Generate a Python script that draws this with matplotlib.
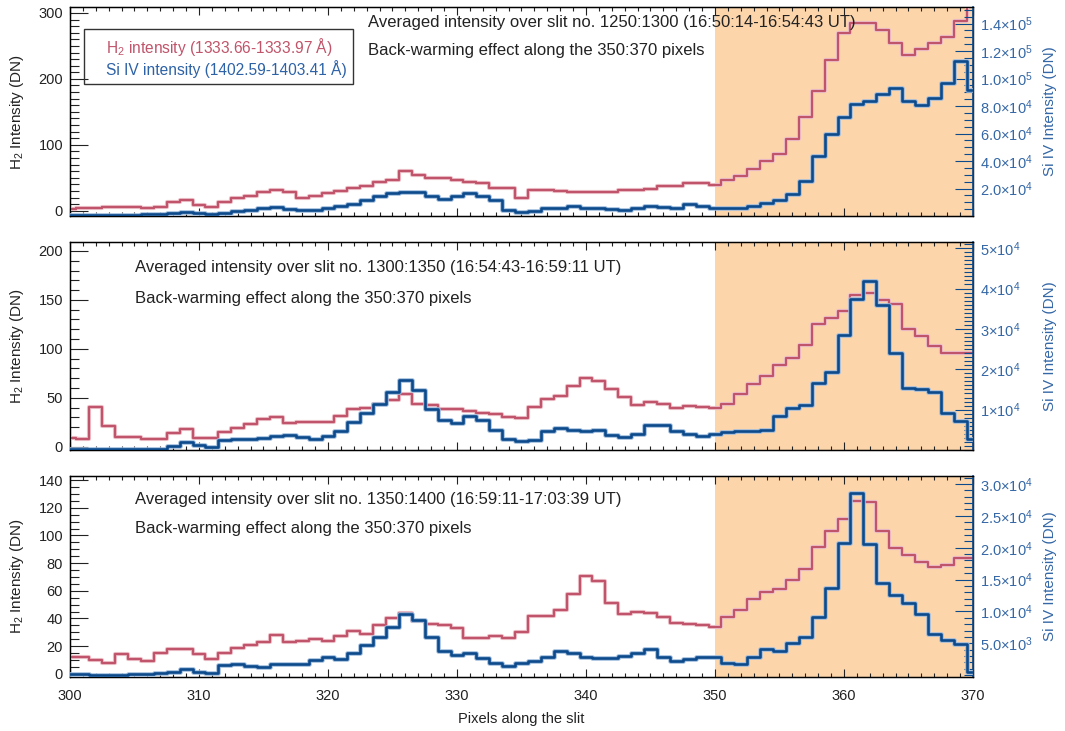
"""Stacked H2 / Si IV intensity profiles along the slit for three slit intervals."""
import numpy as np
import matplotlib
import matplotlib.pyplot as plt
import matplotlib.patheffects as pe
from matplotlib.patches import Rectangle
from matplotlib.ticker import MultipleLocator, FixedLocator, FuncFormatter
matplotlib.use('Agg')

plt.rcParams['font.family'] = ['Liberation Sans', 'DejaVu Sans']
plt.rcParams['mathtext.fontset'] = 'custom'
plt.rcParams['mathtext.rm'] = 'Liberation Sans'
plt.rcParams['mathtext.it'] = 'Liberation Sans:italic'

pixels = np.arange(300, 371)

h2_1 = [2, 4, 4, 5, 5, 5, 4, 6, 14, 17, 9, 5, 14, 19, 22, 28, 31, 28, 20, 22,
        27, 30, 34, 37, 43, 47, 60, 54, 49, 50, 47, 43, 42, 34, 34, 19, 32, 31,
        30, 28, 29, 29, 28, 32, 32, 33, 37, 38, 42, 42, 39, 46, 53, 63, 76, 86,
        109, 142, 181, 229, 269, 285, 285, 274, 254, 236, 246, 254, 264, 288,
        330]
si_1 = [800, 800, 800, 800, 900, 1000, 1200, 1500, 2000, 3000, 2000, 1200,
        2300, 3500, 4700, 5900, 6200, 5200, 4200, 4200, 5900, 7600, 8700,
        12000, 14400, 16900, 17600, 17600, 14400, 12700, 14400, 16400, 14400,
        11300, 4700, 3000, 3500, 5500, 5900, 7600, 6100, 5500, 5200, 4700,
        5900, 7600, 6600, 5900, 8400, 7100, 5900, 5900, 5900, 7100, 9100,
        12000, 16100, 25800, 44000, 59300, 72100, 81800, 83500, 88400, 93200,
        83500, 81100, 86000, 96900, 112600, 91500]

h2_2 = [9, 8, 41, 21, 10, 10, 8, 8, 14, 18, 9, 9, 15, 19, 23, 28, 30, 24, 25,
        25, 25, 31, 38, 40, 44, 48, 54, 44, 43, 39, 38, 36, 34, 33, 30, 29, 41,
        49, 52, 62, 70, 67, 59, 51, 43, 46, 44, 40, 42, 41, 40, 44, 54, 64, 72,
        83, 91, 104, 125, 131, 139, 155, 157, 150, 146, 120, 113, 103, 96, 96,
        96]
si_2 = [300, 300, 300, 300, 300, 300, 300, 300, 940, 1930, 1360, 780, 2430,
        2760, 2760, 3000, 3580, 3830, 3250, 2760, 3420, 4650, 7000, 9180,
        11480, 14280, 17400, 14940, 10160, 7530, 6710, 8520, 7370, 4900, 2760,
        2180, 2590, 4650, 5470, 5060, 4650, 4900, 3830, 3250, 4070, 6300,
        6300, 4650, 4070, 3420, 4070, 4400, 4650, 4650, 5060, 8350, 10400,
        11230, 16600, 19200, 28500, 37300, 41900, 35900, 24000, 15350, 15100,
        14280, 9180, 7120, 2800]

h2_3 = [12, 12, 10, 8, 14, 11, 9, 15, 18, 18, 14, 11, 15, 19, 21, 23, 28, 23,
        24, 25, 24, 27, 31, 29, 35, 40, 44, 38, 36, 35, 33, 26, 26, 27, 26, 30,
        42, 42, 46, 58, 71, 67, 51, 43, 45, 44, 41, 37, 36, 35, 34, 41, 46, 54,
        59, 61, 68, 76, 92, 103, 112, 125, 124, 103, 91, 86, 81, 77, 79, 84, 84]
si_3 = [200, 150, 100, 100, 100, 120, 150, 290, 550, 970, 550, 400, 1600,
        1760, 1440, 1340, 1760, 1700, 1760, 2390, 2900, 2540, 3530, 4740, 6040,
        7610, 9560, 8670, 6040, 3850, 3170, 3430, 2650, 1870, 1490, 1960, 2280,
        2900, 3850, 3530, 2900, 2650, 2750, 3010, 3430, 4070, 2810, 2230, 2490,
        2810, 2900, 1870, 1800, 2900, 4070, 3850, 5000, 5950, 9090, 13640,
        20700, 28650, 20600, 14430, 12590, 11290, 9610, 6470, 5530, 4850, 550]

titles = ['Averaged intensity over slit no. 1250:1300 (16:50:14-16:54:43 UT)',
          'Averaged intensity over slit no. 1300:1350 (16:54:43-16:59:11 UT)',
          'Averaged intensity over slit no. 1350:1400 (16:59:11-17:03:39 UT)']
subtitle = 'Back-warming effect along the 350:370 pixels'

RED = '#c0546a'
BLUE = '#0c4a8c'
AXBLUE = '#3467a6'
PEACH = '#fcd5ab'
TXT = '#222222'


def sci_label(v, decimals):
    e = int(np.floor(np.log10(v) + 1e-9))
    m = v / 10 ** e
    return ('%.*f' % (decimals, m)) + '\u00d710$^{%d}$' % e


def panel(fig, rect, h2, si, ylim, ymaj, ymin, y2lim, y2ticks, y2minor,
          y2dec, title, tpos, legend=False, bottom=False):
    ax = fig.add_axes(rect)
    ax.axvspan(350, 370, color=PEACH, lw=0, zorder=0)
    ax.step(pixels, h2, where='mid', color=RED, lw=1.6, zorder=3,
            path_effects=[pe.Stroke(linewidth=3.0, foreground='#efc4cc'),
                          pe.Normal()])
    ax.set_xlim(300, 370)
    ax.set_ylim(*ylim)
    ax.yaxis.set_major_locator(MultipleLocator(ymaj))
    ax.yaxis.set_minor_locator(MultipleLocator(ymin))
    ax.xaxis.set_major_locator(MultipleLocator(10))
    ax.xaxis.set_minor_locator(MultipleLocator(1))
    ax.tick_params(axis='x', which='both', direction='in', top=True,
                   labelsize=10.5, pad=9, colors='#222222')
    ax.tick_params(axis='x', which='major', length=6, width=0.8)
    ax.tick_params(axis='x', which='minor', length=3, width=0.8)
    ax.tick_params(axis='y', which='both', direction='in', right=False,
                   labelsize=10.5, pad=5, colors='#222222')
    ax.tick_params(axis='y', which='major', length=13, width=0.8)
    ax.tick_params(axis='y', which='minor', length=6.5, width=0.8)
    if not bottom:
        ax.tick_params(axis='x', labelbottom=False)
    for s in ax.spines.values():
        s.set_linewidth(1.0)

    ax2 = ax.twinx()
    ax2.step(pixels, si, where='mid', color=BLUE, lw=1.9, zorder=4,
             path_effects=[pe.Stroke(linewidth=3.3, foreground='#9fbbdc'),
                           pe.Normal()])
    ax2.set_ylim(*y2lim)
    ax2.yaxis.set_major_locator(FixedLocator(y2ticks))
    ax2.yaxis.set_minor_locator(MultipleLocator(y2minor))
    ax2.yaxis.set_major_formatter(FuncFormatter(
        lambda v, p: sci_label(v, y2dec)))
    ax2.tick_params(axis='y', which='both', direction='in', colors=BLUE,
                    labelcolor=AXBLUE, labelsize=10.5, pad=5)
    ax2.tick_params(axis='y', which='major', length=13, width=0.8)
    ax2.tick_params(axis='y', which='minor', length=6.5, width=0.8)
    ax2.spines['right'].set_color(BLUE)
    ax2.spines['right'].set_linewidth(1.2)

    ax.text(tpos[0], tpos[1], title, transform=ax.transAxes, fontsize=12,
            color=TXT, va='center', zorder=6)
    ax.text(tpos[0], tpos[2], subtitle, transform=ax.transAxes, fontsize=12,
            color=TXT, va='center', zorder=6)

    if legend:
        ax.add_patch(Rectangle((0.0158, 0.630), 0.2973, 0.265,
                               transform=ax.transAxes, fill=False,
                               ec='#333333', lw=1.0, zorder=6))
        ax.text(0.040, 0.810, 'H$_2$ intensity (1333.66-1333.97 \u00c5)',
                transform=ax.transAxes, color=RED, fontsize=11.2,
                va='center')
        ax.text(0.040, 0.703, 'Si IV intensity (1402.59-1403.41 \u00c5)',
                transform=ax.transAxes, color='#2d62a6', fontsize=11.2,
                va='center')

    yc = rect[1] + rect[3] / 2
    fig.text(0.016, yc, 'H$_2$ Intensity (DN)', rotation=90, ha='center',
             va='center', fontsize=11, color=TXT)
    fig.text(0.986, yc, 'Si IV Intensity (DN)', rotation=90, ha='center',
             va='center', fontsize=11, color=AXBLUE)
    return ax


def main():
    fig = plt.figure(figsize=(10.65, 7.31), dpi=100)

    panel(fig, [0.0657, 0.7045, 0.8479, 0.2859], h2_1, si_1,
          (-8, 309), 100, 10, (0, 152000),
          np.arange(20000, 140001, 20000), 5000, 1,
          titles[0], (0.330, 0.925, 0.791), legend=True)
    panel(fig, [0.0657, 0.3844, 0.8479, 0.2850], h2_2, si_2,
          (-3.4, 209.5), 50, 10, (0, 51600),
          np.arange(10000, 50001, 10000), 1000, 0,
          titles[1], (0.072, 0.877, 0.725))
    ax = panel(fig, [0.0657, 0.0743, 0.8479, 0.2745], h2_3, si_3,
               (-2.1, 143), 20, 5, (-240, 31250),
               np.arange(5000, 30001, 5000), 1000, 1,
               titles[2], (0.072, 0.884, 0.739), bottom=True)
    ax.set_xlabel('Pixels along the slit', fontsize=10.5, color=TXT,
                  labelpad=6)

    plt.savefig('out.png', dpi=100)


if __name__ == '__main__':
    main()
